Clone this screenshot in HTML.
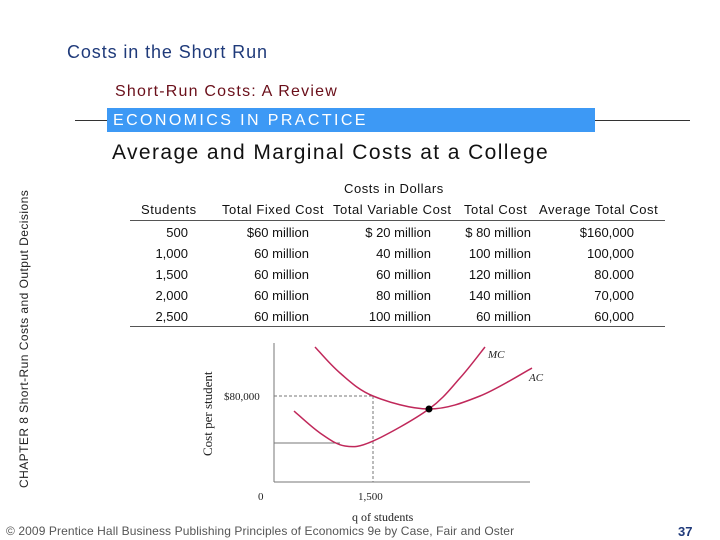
<!DOCTYPE html>
<html><head><meta charset="utf-8">
<style>
body{margin:0;width:720px;height:540px;background:#fff;position:relative;overflow:hidden;font-family:"Liberation Sans",sans-serif}
.a{position:absolute;white-space:nowrap}
.r{text-align:right}
.c{font-size:13px;color:#111}
.h{letter-spacing:0.55px}
</style></head><body>
<div class="a" style="left:67px;top:42px;font-size:18px;letter-spacing:0.9px;color:#1f3a7a">Costs in the Short Run</div>
<div class="a" style="left:115px;top:83px;font-size:16px;letter-spacing:1.2px;color:#6a0f1a">Short-Run Costs:  A Review</div>
<div class="a" style="left:75px;top:120px;width:32px;height:1px;background:#333"></div>
<div class="a" style="left:595px;top:120px;width:95px;height:1px;background:#333"></div>
<div class="a" style="left:107px;top:108px;width:488px;height:24px;background:#3d99f5;color:#fff;font-size:16px;letter-spacing:2.4px;line-height:25px;padding-left:6px;box-sizing:border-box;font-family:'Liberation Sans',sans-serif">ECONOMICS IN PRACTICE</div>
<div class="a" style="left:112px;top:141px;font-size:21px;letter-spacing:1.4px;color:#111">Average and Marginal Costs at a College</div>
<div class="a" style="left:17px;top:488px;font-size:12px;letter-spacing:0.45px;color:#222;transform-origin:0 0;transform:rotate(-90deg);width:295px">CHAPTER 8  Short-Run Costs and Output Decisions</div>

<div class="a c h" style="left:344px;top:181px">Costs in Dollars</div>
<div class="a c h" style="left:141px;top:202px">Students</div>
<div class="a c h" style="left:222px;top:202px">Total Fixed Cost</div>
<div class="a c h" style="left:333px;top:202px">Total Variable Cost</div>
<div class="a c h" style="left:464px;top:202px">Total Cost</div>
<div class="a c h" style="left:539px;top:202px">Average Total Cost</div>
<div class="a" style="left:130px;top:220px;width:535px;height:1px;background:#555"></div>
<div class="a" style="left:130px;top:326px;width:535px;height:1px;background:#555"></div>
<div id="rows"></div>

<svg class="a" style="left:0;top:0" width="720" height="540">
<g id="g"></g>
</svg>

<div class="a" style="left:6px;top:524px;font-size:12px;letter-spacing:0.1px;color:#555">© 2009 Prentice Hall Business Publishing   Principles of Economics 9e by Case, Fair and Oster</div>
<div class="a" style="left:678px;top:524px;font-size:13px;font-weight:bold;color:#1f3a7a">37</div>

<script>
const students=["500","1,000","1,500","2,000","2,500"];
const tfc=["$60 million","60 million","60 million","60 million","60 million"];
const tvc=["$ 20 million","40 million","60 million","80 million","100 million"];
const tc=["$ 80 million","100 million","120 million","140 million","60 million"];
const atc=["$160,000","100,000","80.000","70,000","60,000"];
const mcQ=[303,697,1076,1500,2348,2818,3197];
const mcC=[66000,45600,33500,38100,67900,96700,125600];
const acQ=[621,1000,1500,2348,3121,3909];
const acC=[125600,101400,80000,67900,80000,106000];
const rowsEl=document.getElementById('rows');
const cols=[[students,188,'student-count'],[tfc,309,'total-fixed-cost'],[tvc,431,'total-variable-cost'],[tc,531,'total-cost'],[atc,634,'average-total-cost']];
students.forEach((s,i)=>{cols.forEach(([arr,right,nm])=>{
 const d=document.createElement('div');
 d.className='a c r';
 d.style.cssText='right:'+(720-right)+'px;top:'+(225+i*21)+'px';
 d.textContent=arr[i];
 
 
 rowsEl.appendChild(d);});});

const NS='http://www.w3.org/2000/svg',g=document.getElementById('g');
const X=q=>274+q*99/1500, Y=c=>482-c*86/80000;
function el(t,a,name){const e=document.createElementNS(NS,t);for(const k in a)e.setAttribute(k,a[k]);
 
 
 g.appendChild(e);return e;}
el('line',{x1:274,y1:343,x2:274,y2:482,stroke:'#777','stroke-width':1},'y-axis');
el('line',{x1:274,y1:482,x2:530,y2:482,stroke:'#777','stroke-width':1},'x-axis');
el('line',{x1:274,y1:Y(80000),x2:X(1500),y2:Y(80000),stroke:'#777','stroke-dasharray':'3,2'},'guide-80000');
el('line',{x1:X(1500),y1:Y(80000),x2:X(1500),y2:482,stroke:'#777','stroke-dasharray':'3,2'},'guide-1500');
el('line',{x1:274,y1:Y(mcC[2])-3,x2:X(mcQ[2])-5,y2:Y(mcC[2])-3,stroke:'#777'},'guide-mc-min');
function path(qs,cs){const p=qs.map((q,i)=>[X(q),Y(cs[i])]);let d='M'+p[0];
 for(let i=0;i<p.length-1;i++){const p0=p[i-1]||p[i],p1=p[i],p2=p[i+1],p3=p[i+2]||p2;
  d+='C'+(p1[0]+(p2[0]-p0[0])/6)+','+(p1[1]+(p2[1]-p0[1])/6)+' '+(p2[0]-(p3[0]-p1[0])/6)+','+(p2[1]-(p3[1]-p1[1])/6)+' '+p2;}
 return d;}
el('path',{d:path(mcQ,mcC),fill:'none',stroke:'#c0285a','stroke-width':1.5},'mc-curve');
el('path',{d:path(acQ,acC),fill:'none',stroke:'#c0285a','stroke-width':1.5},'ac-curve');
el('circle',{cx:X(2348),cy:Y(67900),r:3.5,fill:'#000'},'intersection-point');
function tx(x,y,s,name,extra){const t=el('text',Object.assign({x:x,y:y,'font-family':'Liberation Serif,serif','font-size':11,fill:'#222'},extra||{}),name);t.textContent=s;return t;}
tx(488,358,'MC','mc-label',{'font-style':'italic'});
tx(529,381,'AC','ac-label',{'font-style':'italic'});
tx(224,400,'$80,000','y-tick-80000');
tx(258,500,'0','x-tick-0');
tx(358,500,'1,500','x-tick-1500');
tx(352,521,'q of students','x-axis-title',{'font-size':12});
tx(212,456,'Cost per student','y-axis-title',{transform:'rotate(-90 212 456)','font-size':13});
</script>
</body></html>
